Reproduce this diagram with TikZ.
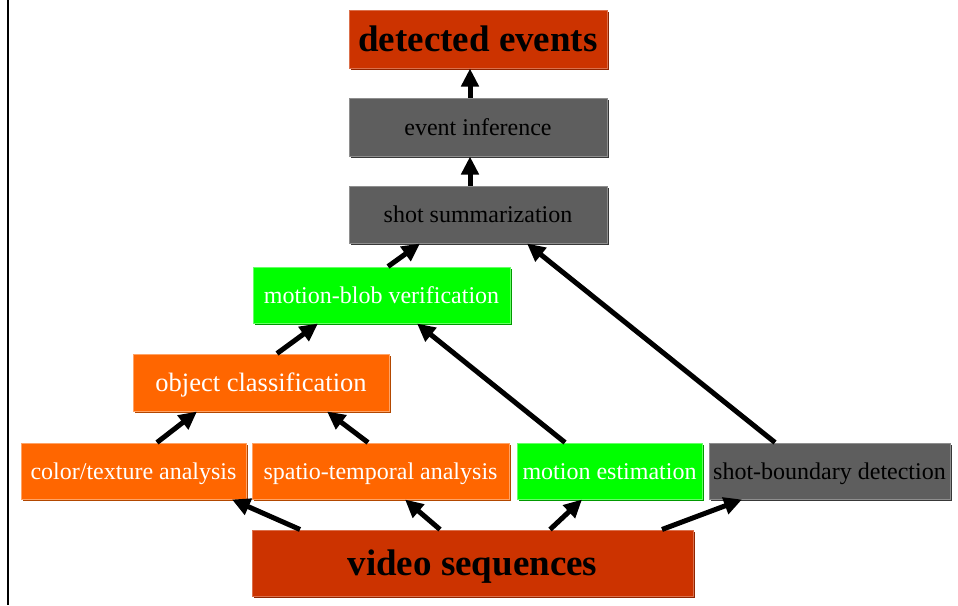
\documentclass[tikz,border=0pt]{standalone}
\usepackage{fontspec}
\setmainfont{Liberation Serif}
\usetikzlibrary{arrows.meta, shadows}

\definecolor{brick}{HTML}{CC3300}
\definecolor{slate}{HTML}{5E5E5E}
\definecolor{pumpkin}{HTML}{FF6600}
\definecolor{lime}{HTML}{00FF00}

\begin{document}
\begin{tikzpicture}[x=1pt, y=-1pt,
	b/.style={rectangle, inner sep=0pt, line width=1pt, text height=16.6pt, text depth=0pt, font=\fontsize{24}{28}\selectfont},
	redbox/.style={b, fill=brick, draw=brick!70!white, text=black, text height=25.5pt, font=\fontsize{37}{42}\selectfont\bfseries,
		general shadow={shadow xshift=2pt, shadow yshift=-2pt, fill=brick!70!black}},
	graybox/.style={b, fill=slate, draw=slate!70!white, text=black,
		general shadow={shadow xshift=2pt, shadow yshift=-2pt, fill=slate!60!black}},
	orangebox/.style={b, fill=pumpkin, draw=pumpkin!60!white, text=white,
		general shadow={shadow xshift=2pt, shadow yshift=-2pt, fill=pumpkin!70!black}},
	greenbox/.style={b, fill=lime, draw=lime!60!white, text=white,
		general shadow={shadow xshift=2pt, shadow yshift=-2pt, fill=lime!60!black}},
	>={Triangle[length=18pt, width=17pt]},
	ar/.style={->, line width=5pt}]
	\useasboundingbox (0,0) rectangle (958,605);
	\draw[line width=2.5pt] (8,0) -- (8,605);

	\node[redbox, minimum width=258pt, minimum height=58pt] (det) at (478,39) {detected events};
	\node[graybox, minimum width=258pt, minimum height=58pt] (inf) at (478,127) {event inference};
	\node[graybox, minimum width=258pt, minimum height=57pt] (summ) at (478,214.5) {shot summarization};
	\node[greenbox, minimum width=257pt, minimum height=56pt] (blob) at (381.5,295) {motion-blob verification};
	\node[orangebox, minimum width=256pt, minimum height=57pt, text height=18.3pt, font=\fontsize{26.5}{30}\selectfont] (obj) at (261,382.5) {object classification};
	\node[orangebox, minimum width=225pt, minimum height=56pt] (color) at (133.5,471) {color/texture analysis};
	\node[orangebox, minimum width=257pt, minimum height=56pt] (spatio) at (380.5,471) {spatio-temporal analysis};
	\node[greenbox, minimum width=185pt, minimum height=56pt] (mest) at (609.5,471) {motion estimation};
	\node[graybox, minimum width=241pt, minimum height=56pt] (shotb) at (829.5,471) {shot-boundary detection};
	\node[redbox, minimum width=441pt, minimum height=66pt] (video) at (472.5,563) {video sequences};

	\path[ar] ([xshift=-8pt]inf.north) edge ([xshift=-8pt]det.south);
	\path[ar] ([xshift=-8pt]summ.north) edge ([xshift=-8pt]inf.south);
	\path[ar] ([xshift=6.5pt]blob.north) edge ([xshift=-58pt]summ.south);
	\path[ar] ([xshift=-54.5pt]shotb.north) edge ([xshift=49pt]summ.south);
	\path[ar] ([xshift=-44.5pt]mest.north) edge ([xshift=35.5pt]blob.south);
	\path[ar] ([xshift=16pt]obj.north) edge ([xshift=-63.5pt]blob.south);
	\path[ar] ([xshift=23.5pt]color.north) edge ([xshift=-64pt]obj.south);
	\path[ar] ([xshift=-12.5pt]spatio.north) edge ([xshift=66pt]obj.south);
	\path[ar] ([xshift=-172.5pt]video.north) edge ([xshift=98.5pt]color.south);
	\path[ar] ([xshift=-32.5pt]video.north) edge ([xshift=24.5pt]spatio.south);
	\path[ar] ([xshift=77.5pt]video.north) edge ([xshift=-27.5pt]mest.south);
	\path[ar] ([xshift=189.5pt]video.north) edge ([xshift=-87.5pt]shotb.south);
\end{tikzpicture}
\end{document}
